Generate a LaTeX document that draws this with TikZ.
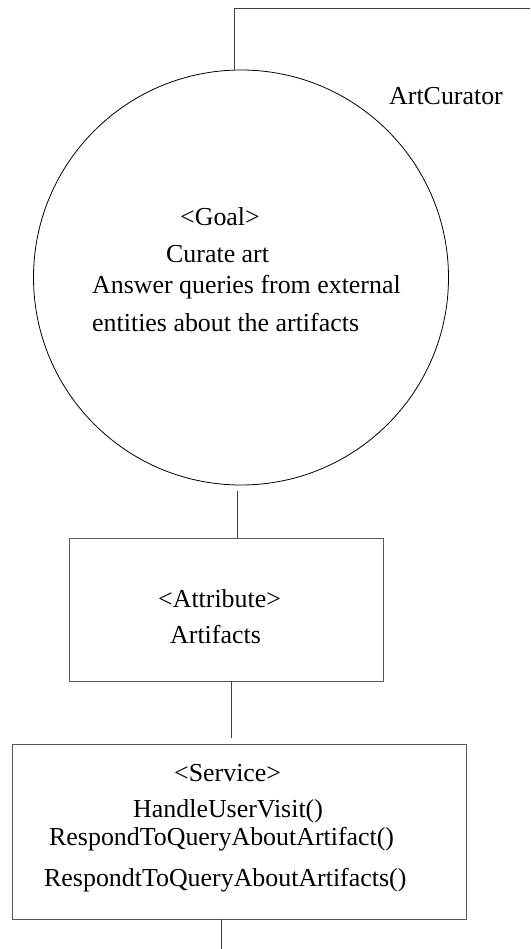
\documentclass[tikz,border=0pt]{standalone}
\usepackage{fontspec}
\setmainfont{Liberation Serif}
\begin{document}
\begin{tikzpicture}[x=1pt,y=-1pt,
  lbl/.style={anchor=base west,inner sep=0pt,font=\fontsize{25.9}{31}\selectfont},
  boxshape/.style={draw=black!65,line width=1pt,rectangle,inner sep=0pt},
  conn/.style={draw=black!75,line width=0.9pt}]
\useasboundingbox (0,0) rectangle (530,949);
% shapes
\node[draw,circle,line width=0.8pt,minimum size=415pt,inner sep=0pt] (goal) at (241,277.5) {};
\node[boxshape,minimum width=314pt,minimum height=143pt] (attr) at (226,609.5) {};
\node[boxshape,minimum width=454pt,minimum height=175pt] (svc) at (239,831.5) {};
% texts
\node[lbl] (curator) at (389,105) {ArtCurator};
\node[lbl] (g1) at (180,226) {<Goal>};
\node[lbl] (g2) at (166,262) {Curate art};
\node[lbl] (g3) at (92,294) {Answer queries from external};
\node[lbl] (g4) at (92,331) {entities about the artifacts};
\node[lbl] (a1) at (158,607) {<Attribute>};
\node[lbl] (a2) at (170,643) {Artifacts};
\node[lbl] (s1) at (174,781) {<Service>};
\node[lbl] (s2) at (133,817) {HandleUserVisit()};
\node[lbl] (s3) at (49,845) {RespondToQueryAboutArtifact()};
\node[lbl] (s4) at (44,886) {RespondtToQueryAboutArtifacts()};
% connector end points
\coordinate (ctop) at (234,70);
\coordinate (cbend) at (234,8);
\coordinate (cright) at (530,8);
\coordinate (gbot) at (237,491);
\coordinate (atop) at (237,538);
\coordinate (abot) at (231,681);
\coordinate (stop) at (231,738);
\coordinate (sbot) at (221,919);
\coordinate (pend) at (221,949);
% connectors
\draw[conn] (ctop) -- (cbend) -- (cright);
\draw[conn] (gbot) -- (atop);
\draw[conn] (abot) -- (stop);
\draw[conn] (sbot) -- (pend);
\end{tikzpicture}
\end{document}
